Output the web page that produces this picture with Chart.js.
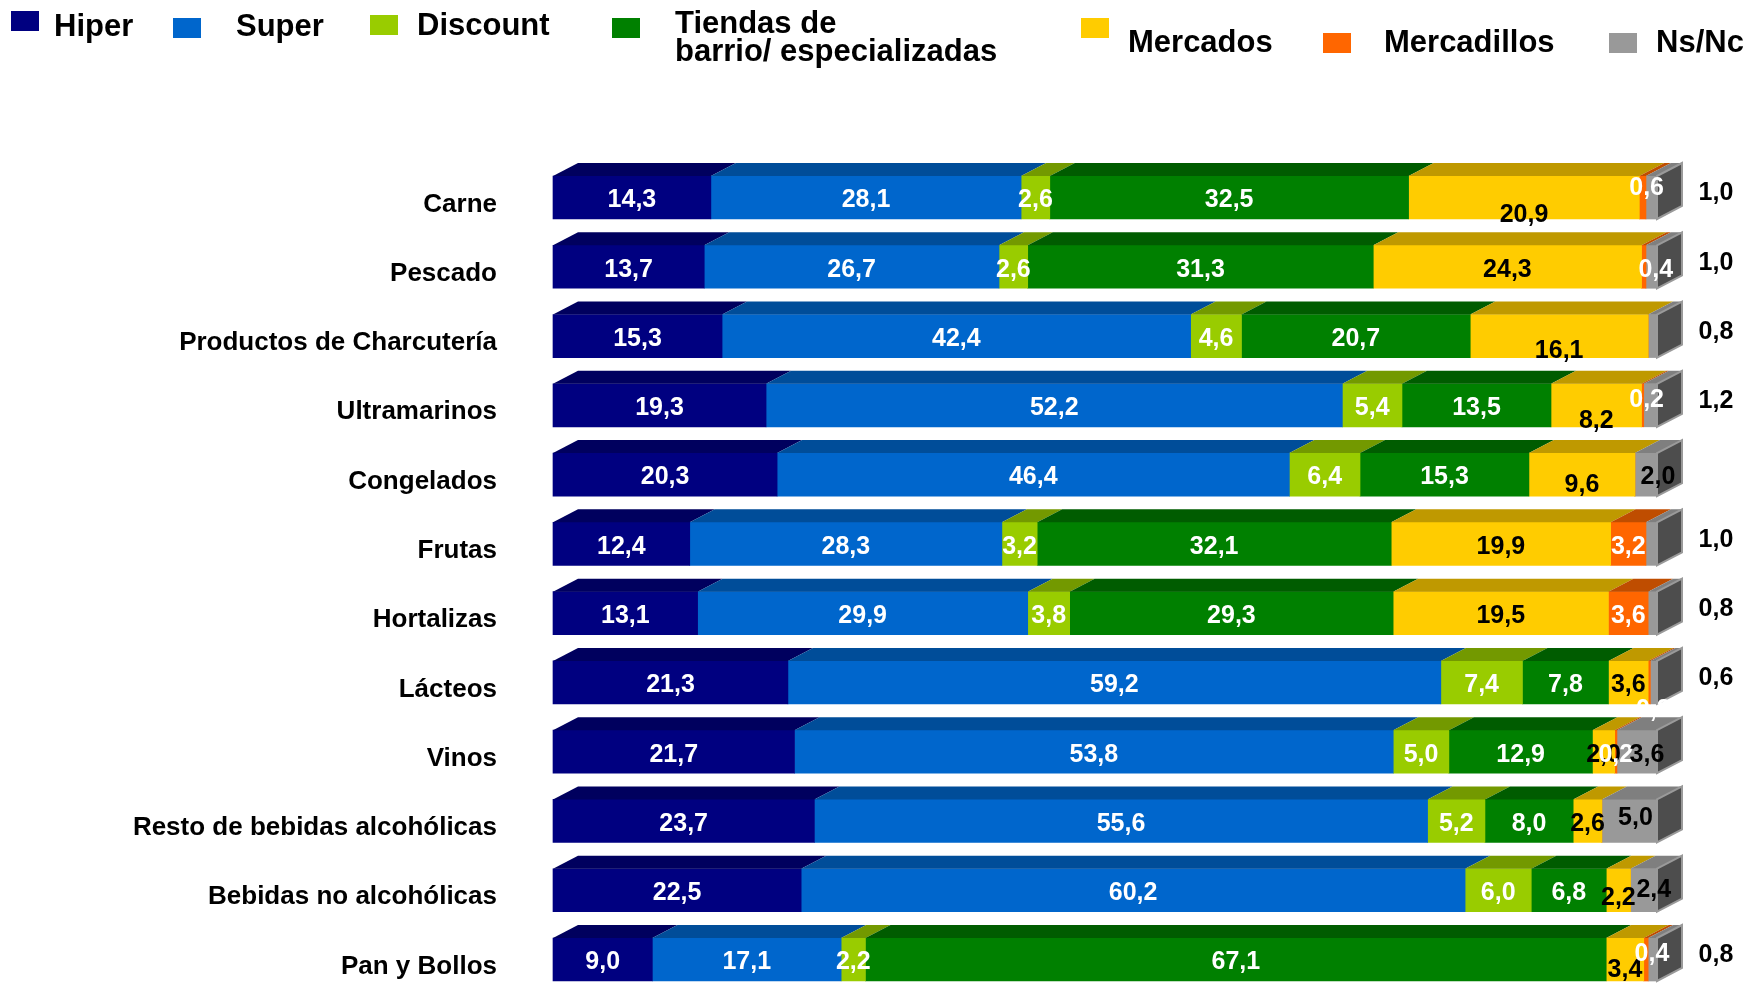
<!DOCTYPE html>
<html><head><meta charset="utf-8">
<script src="https://cdn.jsdelivr.net/npm/chart.js@4/dist/chart.umd.min.js"></script>
<style>html,body{margin:0;padding:0;background:#fff;overflow:hidden}#wrap{width:1749px;height:986px;position:relative}</style>
</head><body><div id="wrap"><canvas id="c" width="1749" height="986"></canvas></div>
<script>
const categories = ['Carne','Pescado','Productos de Charcutería','Ultramarinos','Congelados','Frutas','Hortalizas','Lácteos','Vinos','Resto de bebidas alcohólicas','Bebidas no alcohólicas','Pan y Bollos'];
const seriesNames = [['Hiper'],['Super'],['Discount'],['Tiendas de','barrio/ especializadas'],['Mercados'],['Mercadillos'],['Ns/Nc']];
const hiper       = [14.3,13.7,15.3,19.3,20.3,12.4,13.1,21.3,21.7,23.7,22.5,9.0];
const superm      = [28.1,26.7,42.4,52.2,46.4,28.3,29.9,59.2,53.8,55.6,60.2,17.1];
const discount    = [2.6,2.6,4.6,5.4,6.4,3.2,3.8,7.4,5.0,5.2,6.0,2.2];
const tiendas     = [32.5,31.3,20.7,13.5,15.3,32.1,29.3,7.8,12.9,8.0,6.8,67.1];
const mercados    = [20.9,24.3,16.1,8.2,9.6,19.9,19.5,3.6,2.0,2.6,2.2,3.4];
const mercadillos = [0.6,0.4,0,0.2,0,3.2,3.6,0.2,0.2,0,0,0.4];
const nsnc        = [1.0,1.0,0.8,1.2,2.0,1.0,0.8,0.6,3.6,5.0,2.4,0.8];

const series = [hiper, superm, discount, tiendas, mercados, mercadillos, nsnc];

// styles
const FONT = '"Liberation Sans", Arial, sans-serif';
const FRONT = ['#000080','#0066CC','#99CC00','#008000','#FFCC00','#FF6600','#999999'];
const TOP   = ['#00005E','#004D99','#739900','#005C00','#BF9900','#BF4D00','#7F7F7F'];
const LABEL_COLOR = ['#ffffff','#ffffff','#ffffff','#ffffff','#000000','#ffffff','#000000'];
const DX = 25, DY = 13;
const LEGEND = [
  {bx:11,  by:11, tx:54,   ty:[36]},
  {bx:173, by:18, tx:236,  ty:[36]},
  {bx:370, by:15, tx:417,  ty:[35]},
  {bx:612, by:18, tx:675,  ty:[33,61]},
  {bx:1081,by:18, tx:1128, ty:[52]},
  {bx:1323,by:33, tx:1384, ty:[52]},
  {bx:1609,by:33, tx:1656, ty:[52]}
];
// label nudges ("category-series": [dx, dy]) mimicking the original label placement
const NUDGE = {
  '0-4':[0,15], '2-4':[0,12], '3-4':[0,13], '4-4':[0,8], '10-4':[0,5], '11-4':[0,8],
  '0-5':[4,-12], '1-5':[12,0], '3-5':[4,-8], '7-5':[4,25], '11-5':[6,-8],
  '4-6':[12,0], '8-6':[10,0], '9-6':[6,-6], '10-6':[10,-3]
};

// 100% stacked: share of each row total
const totals = categories.map((_, i) => series.reduce((s, arr) => s + arr[i], 0));
const datasets = series.map((arr, d) => ({
  label: seriesNames[d].join(' '),
  data: arr.map((v, i) => v / totals[i] * 100),
  raw: arr,
  backgroundColor: FRONT[d],
  borderWidth: 0,
  barThickness: 43,
  clip: false,
  stack: 's'
}));

const fmt = v => v.toFixed(1).replace('.', ',');

const threeD = {
  id: 'threeD',
  afterDatasetsDraw(chart) {
    const ctx = chart.ctx;
    const area = chart.chartArea;
    ctx.save();
    for (let i = 0; i < categories.length; i++) {
      let last = null;
      chart.data.datasets.forEach((ds, d) => {
        const el = chart.getDatasetMeta(d).data[i];
        const p = el.getProps(['x','y','base','height'], true);
        if (Math.abs(p.x - p.base) < 0.01) return;
        const top = p.y - p.height / 2;
        ctx.beginPath();
        ctx.moveTo(p.base, top);
        ctx.lineTo(p.x, top);
        ctx.lineTo(p.x + DX, top - DY);
        ctx.lineTo(p.base + DX, top - DY);
        ctx.closePath();
        ctx.fillStyle = TOP[d];
        ctx.fill();
        last = {x: p.x, top: top, bottom: p.y + p.height / 2};
      });
      if (last) {
        ctx.beginPath();
        ctx.moveTo(last.x, last.top);
        ctx.lineTo(last.x + DX, last.top - DY);
        ctx.lineTo(last.x + DX, last.bottom - DY);
        ctx.lineTo(last.x, last.bottom);
        ctx.closePath();
        ctx.fillStyle = '#4D4D4D';
        ctx.fill();
        ctx.strokeStyle = '#9A9A9A';
        ctx.lineWidth = 2;
        ctx.stroke();
      }
    }
    // value labels
    ctx.font = 'bold 25px ' + FONT;
    ctx.textAlign = 'center';
    ctx.textBaseline = 'middle';
    for (let i = 0; i < categories.length; i++) {
      chart.data.datasets.forEach((ds, d) => {
        const v = ds.raw[i];
        if (!v) return;
        const el = chart.getDatasetMeta(d).data[i];
        const p = el.getProps(['x','y','base'], true);
        if (d === 6 && v < 1.5) {
          ctx.fillStyle = '#000';
          ctx.fillText(fmt(v), area.right + 59, p.y - 4);
        } else {
          const n = NUDGE[i + '-' + d] || [0, 0];
          ctx.fillStyle = LABEL_COLOR[d];
          ctx.fillText(fmt(v), (p.x + p.base) / 2 + n[0], p.y + 3 + n[1]);
        }
      });
    }
    // legend
    ctx.font = 'bold 31px ' + FONT;
    ctx.textAlign = 'left';
    ctx.textBaseline = 'alphabetic';
    LEGEND.forEach((L, d) => {
      ctx.fillStyle = FRONT[d];
      ctx.fillRect(L.bx, L.by, 28, 20);
      ctx.fillStyle = '#000';
      seriesNames[d].forEach((line, k) => ctx.fillText(line, L.tx, L.ty[k]));
    });
    ctx.restore();
  }
};

new Chart(document.getElementById('c'), {
  type: 'bar',
  data: { labels: categories, datasets: datasets },
  options: {
    indexAxis: 'y',
    responsive: false,
    animation: false,
    events: [],
    layout: { padding: { top: 197.5, bottom: 26.5, left: 0, right: 92 } },
    plugins: { legend: { display: false }, tooltip: { enabled: false }, title: { display: false } },
    scales: {
      x: { stacked: true, min: 0, max: 100, display: false },
      y: {
        stacked: true,
        offset: false,
        grid: { display: false, drawTicks: false },
        border: { display: false },
        afterFit: s => { s.width = 553; s.paddingTop = 0; s.paddingBottom = 0; },
        ticks: {
          padding: 56,
          labelOffset: 7,
          color: '#000',
          font: { family: FONT, size: 26, weight: 'bold' }
        }
      }
    }
  },
  plugins: [threeD]
});
</script>
</body></html>
